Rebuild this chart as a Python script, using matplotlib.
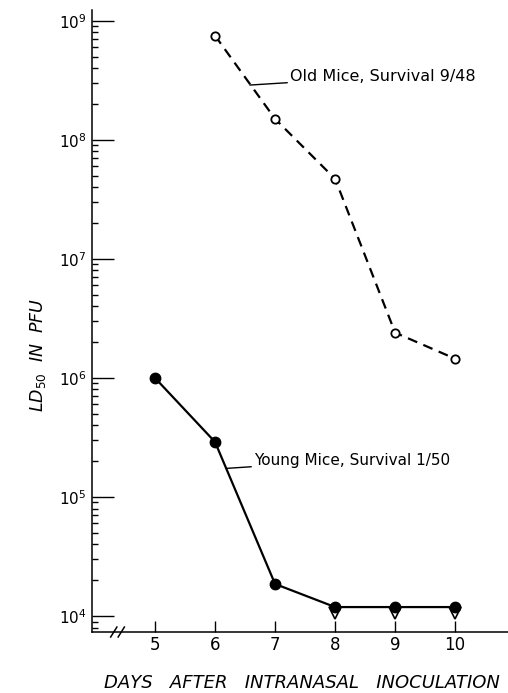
import matplotlib
matplotlib.use("Agg")
import matplotlib.pyplot as plt
from matplotlib.ticker import LogLocator, NullFormatter, FixedLocator

# values (LD50 in PFU)
days_old = [6, 7, 8, 9, 10]
ld50_old = [7.5e8, 1.5e8, 4.7e7, 2.4e6, 1.45e6]

days_young = [5, 6, 7, 8, 9, 10]
ld50_young = [1.0e6, 2.9e5, 1.86e4, 1.19e4, 1.19e4, 1.19e4]

# open triangles: "less than" limits under the last three points
days_limit = [8, 9, 10]
ld50_limit = [1.06e4, 1.06e4, 1.06e4]

day_ticks = [5, 6, 7, 8, 9, 10]

fig = plt.figure(figsize=(5.08, 6.93), dpi=100)
ax = fig.add_axes([0.181, 0.088, 0.819, 0.8975])

ax.plot(days_old, ld50_old, color="black", lw=1.6, ls=(0, (4.5, 3)),
        marker="o", ms=6, mfc="white", mec="black", mew=1.3, zorder=3)
ax.plot(days_young, ld50_young, color="black", lw=1.6,
        marker="o", ms=7.5, mfc="black", mec="black", zorder=3)
ax.plot(days_limit, ld50_limit, ls="none", marker="v", ms=8,
        mfc="white", mec="black", mew=1.2, zorder=2)

ax.set_yscale("log")
ax.set_xlim(3.95, 10.88)
ax.set_ylim(10**3.866, 10**9.09)

ax.xaxis.set_major_locator(FixedLocator(day_ticks))
ax.yaxis.set_major_locator(LogLocator(base=10, numticks=10))
ax.yaxis.set_minor_locator(LogLocator(base=10, subs=range(2, 10), numticks=20))
ax.yaxis.set_minor_formatter(NullFormatter())

for s in ["top", "right"]:
    ax.spines[s].set_visible(False)
for s in ["left", "bottom"]:
    ax.spines[s].set_linewidth(1.1)

ax.tick_params(axis="y", which="major", direction="in", length=16, width=1.0,
               labelsize=11, pad=4)
ax.tick_params(axis="y", which="minor", direction="in", length=4.5, width=1.0)
ax.tick_params(axis="x", which="major", direction="in", length=8, width=1.0,
               labelsize=12, pad=3)

# axis break on the x axis
for dx in (0.0, 0.018):
    ax.plot([0.045 + dx, 0.06 + dx], [-0.008, 0.008], transform=ax.transAxes,
            color="black", lw=1.1, clip_on=False)

ax.set_xlabel("DAYS   AFTER   INTRANASAL   INOCULATION", fontsize=13,
              style="italic")
ax.xaxis.set_label_coords(0.505, -0.068)
ax.set_ylabel(r"$LD_{50}$  IN  PFU", fontsize=12.5, style="italic")
ax.yaxis.set_label_coords(-0.105, 0.445)

ax.annotate("Old Mice, Survival 9/48", xy=(6.58, 10**8.46),
            xytext=(7.25, 10**8.53), fontsize=11.5, va="center", ha="left",
            arrowprops=dict(arrowstyle="-", color="black", lw=1.0,
                            shrinkA=0, shrinkB=0))
ax.annotate("Young Mice, Survival 1/50", xy=(6.18, 10**5.24),
            xytext=(6.65, 10**5.31), fontsize=11, va="center", ha="left",
            arrowprops=dict(arrowstyle="-", color="black", lw=1.0,
                            shrinkA=0, shrinkB=0))

fig.savefig("out.png", dpi=100)
